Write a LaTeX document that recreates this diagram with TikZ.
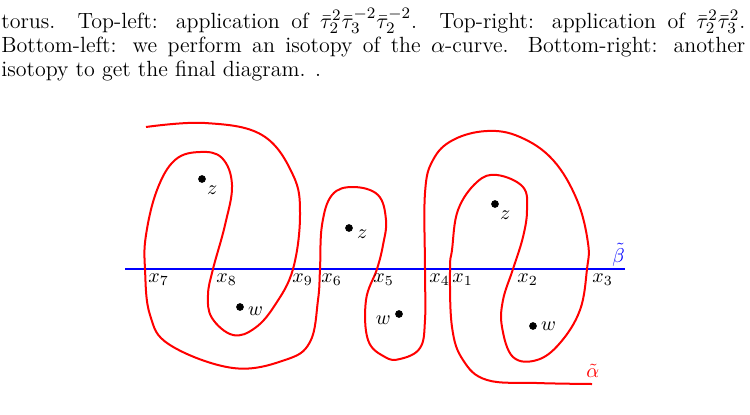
\documentclass[tikz,border=0pt]{standalone}
\usetikzlibrary{positioning}

\begin{document}
\begin{tikzpicture}[
						x=0.5pt, y=-0.5pt,
						node distance={1pt},
						acurve/.style = {draw=red, line width=1pt, line join=round},
						bcurve/.style = {draw=blue, line width=1pt},
						point/.style = {draw, fill=black, circle, inner sep=0pt, minimum size=3.4pt},
						lbl/.style = {inner sep=0pt, anchor=base west},
						capline/.style = {inner sep=0pt, anchor=base west, font=\fontsize{11}{13.6}\selectfont}
					]
\useasboundingbox (0,0) rectangle (750,414);

% caption
\node[capline] (cap1) at (1,28) {\hbox to 372pt{torus. Top-left: application of $\bar{\tau}_2^2\bar{\tau}_3^{-2}\bar{\tau}_2^{-2}$. Top-right: application of $\bar{\tau}_2^2\bar{\tau}_3^2$.}};
\node[capline] (cap2) at (1,52) {\hbox to 372pt{Bottom-left: we perform an isotopy of the $\alpha$-curve. Bottom-right: another}};
\node[capline] (cap3) at (1,76) {isotopy to get the final diagram. .};

% intersection points
\coordinate (x7) at (145,269);
\coordinate (x8) at (213,269);
\coordinate (x9) at (293,269);
\coordinate (x6) at (320,269);
\coordinate (x5) at (377,269);
\coordinate (x4) at (425,269);
\coordinate (x1) at (450,269);
\coordinate (x2) at (513,269);
\coordinate (x3) at (587,269);
\coordinate (bl) at (125,269);
\coordinate (br) at (625,269);

% beta curve
\draw[bcurve] (bl) -- (br);

% alpha curve
\draw[acurve] plot[smooth, tension=0.65] coordinates {
	(146,127) (205,123) (262,135) (293,175) (300,215) (x9)
	(275,305) (255,328) (233,335) (212,318) (208,295) (x8)
	(225,225) (232,185) (222,158) (200,152) (175,160) (157,190) (146,235) (x7)
	(150,315) (170,345) (233,368) (285,360) (310,342) (318,300) (x6)
	(322,225) (332,195) (353,187) (378,195) (386,220) (383,245) (x5)
	(366,300) (368,340) (385,357) (400,359) (420,348) (425,320) (x4)
	(425,193) (433,160) (453,140) (487,131) (520,137) (553,160) (577,200) (588,243) (x3)
	(580,310) (560,343) (537,360) (513,357) (502,327) (503,300) (x2)
	(523,237) (527,210) (523,187) (497,175) (477,182) (458,210) (452,250) (x1)
	(452,327) (463,360) (487,380) (537,383) (592,384)};

% base points
\node[point] (z1) at (202,179) {};
\node[point] (w1) at (240,307) {};
\node[point] (z2) at (349,228) {};
\node[point] (w2) at (399,314) {};
\node[point] (z3) at (495,204) {};
\node[point] (w3) at (533,326) {};
\node (lz1) [below right=1pt and 0pt of z1, inner sep=1pt] {$z$};
\node (lw1) [right=1pt of w1, yshift=-2pt, inner sep=1pt] {$w$};
\node (lz2) [right=1pt of z2, yshift=-3pt, inner sep=1pt] {$z$};
\node (lw2) [left=1pt of w2, yshift=-3pt, inner sep=1pt] {$w$};
\node (lz3) [below right=1pt and 0pt of z3, inner sep=1pt] {$z$};
\node (lw3) [right=1pt of w3, inner sep=1pt] {$w$};

% intersection labels
\node[lbl] (l7) at (148,282) {$x_7$};
\node[lbl] (l8) at (216,282) {$x_8$};
\node[lbl] (l9) at (292,282) {$x_9$};
\node[lbl] (l6) at (321,282) {$x_6$};
\node[lbl] (l5) at (373,282) {$x_5$};
\node[lbl] (l4) at (429,282) {$x_4$};
\node[lbl] (l1) at (452,282) {$x_1$};
\node[lbl] (l2) at (517,282) {$x_2$};
\node[lbl] (l3) at (592,282) {$x_3$};

% curve names
\node[lbl, text=red] (la) at (586,377) {$\tilde{\alpha}$};
\node[lbl, text=blue] (lb) at (612,262) {$\tilde{\beta}$};
\end{tikzpicture}
\end{document}
